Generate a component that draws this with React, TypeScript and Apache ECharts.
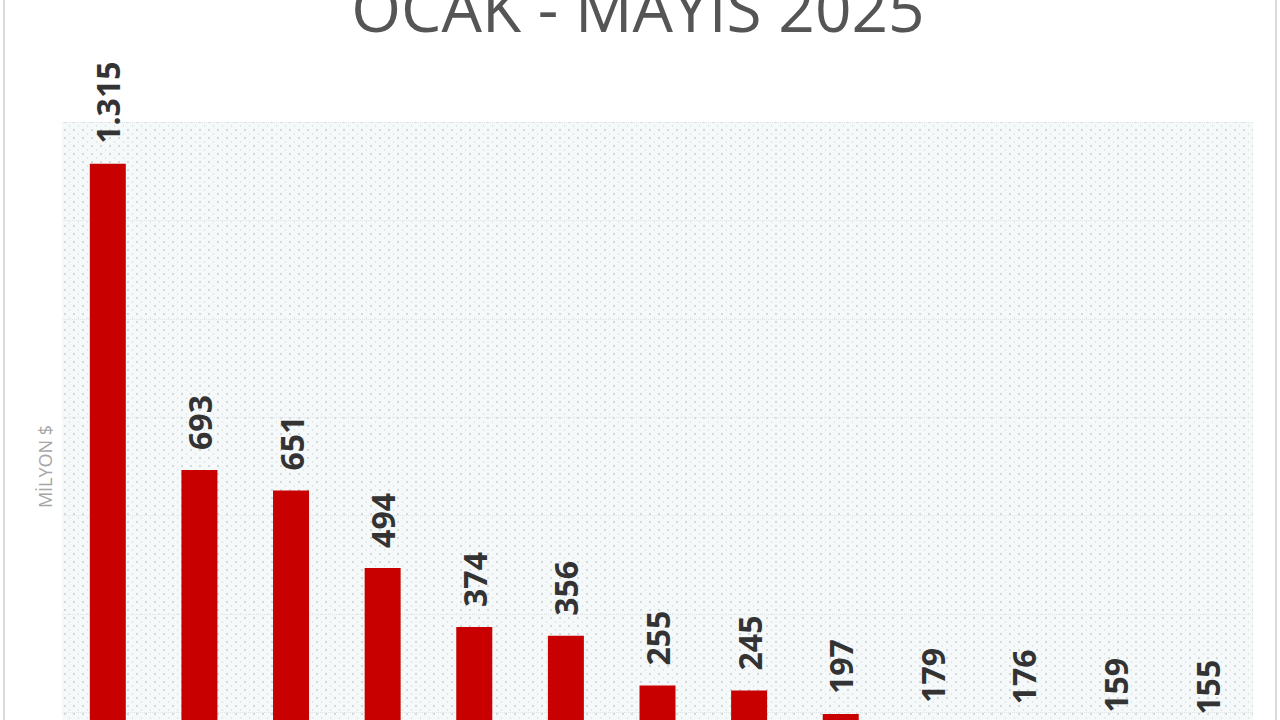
import React, { useEffect, useRef } from "react";
import * as echarts from "echarts";

const categories = ["1", "2", "3", "4", "5", "6", "7", "8", "9", "10", "11", "12", "13"];
const values = [1315, 693, 651, 494, 374, 356, 255, 245, 197, 179, 176, 159, 155];
const titleText = "OCAK - MAYIS 2025";
const unitName = "MİLYON $";

const fmt = (v: number) => String(v).replace(/\B(?=(\d{3})+(?!\d))/g, ".");

const tileSvg =
  "<svg xmlns='http://www.w3.org/2000/svg' width='9' height='8'>" +
  "<rect width='9' height='8' fill='#f6f9fa'/>" +
  "<circle cx='2' cy='2' r='0.9' fill='#c4cacd'/>" +
  "<circle cx='6.5' cy='6' r='0.7' fill='#d4d9db'/>" +
  "</svg>";
const tileUrl = "data:image/svg+xml;charset=utf-8," + encodeURIComponent(tileSvg);

export default function App() {
  const ref = useRef<HTMLDivElement>(null);
  useEffect(() => {
    if (!ref.current) return;
    const chart = echarts.init(ref.current, undefined, { renderer: "svg" });
    chart.setOption({
      animation: false,
      backgroundColor: "#ffffff",
      graphic: [
        {
          type: "rect",
          shape: { x: 4, y: -20, width: 1272, height: 1000 },
          style: { fill: "none", stroke: "#dadada", lineWidth: 2 },
          z: 0,
        },
        {
          type: "text",
          x: 638,
          y: 7,
          style: {
            text: titleText,
            font: "400 64px 'Open Sans', sans-serif",
            fill: "#555555",
            align: "center",
            verticalAlign: "middle",
          },
        },
      ],
      grid: {
        left: 62,
        width: 1191,
        top: 122,
        bottom: 89,
        show: true,
        borderWidth: 0,
        backgroundColor: { image: tileUrl, repeat: "repeat" },
      },
      xAxis: {
        type: "category",
        data: categories,
        axisLine: { show: false },
        axisTick: { show: false },
        axisLabel: { show: false },
      },
      yAxis: {
        type: "value",
        min: 0,
        max: 1400,
        interval: 200,
        name: unitName,
        nameLocation: "middle",
        nameGap: 8,
        nameTextStyle: { color: "#a6a6a6", fontSize: 18, fontFamily: "'Open Sans', sans-serif" },
        axisLine: { show: false },
        axisTick: { show: false },
        axisLabel: { show: false },
        splitLine: { show: true, lineStyle: { color: "#dfe4e6", type: "dotted", width: 1 } },
      },
      series: [
        {
          type: "bar",
          data: values,
          barWidth: 36,
          itemStyle: { color: "#c80000" },
          label: {
            show: true,
            position: "top",
            distance: 20,
            rotate: 90,
            align: "left",
            verticalAlign: "middle",
            formatter: (p: any) => fmt(p.value),
            fontFamily: "'Open Sans', sans-serif",
            fontWeight: "bold",
            fontSize: 32,
            color: "#333333",
          },
        },
      ],
    });
    return () => chart.dispose();
  }, []);
  return (
    <div
      ref={ref}
      style={{ position: "fixed", left: 0, top: 0, width: 1280, height: 900 }}
    />
  );
}
